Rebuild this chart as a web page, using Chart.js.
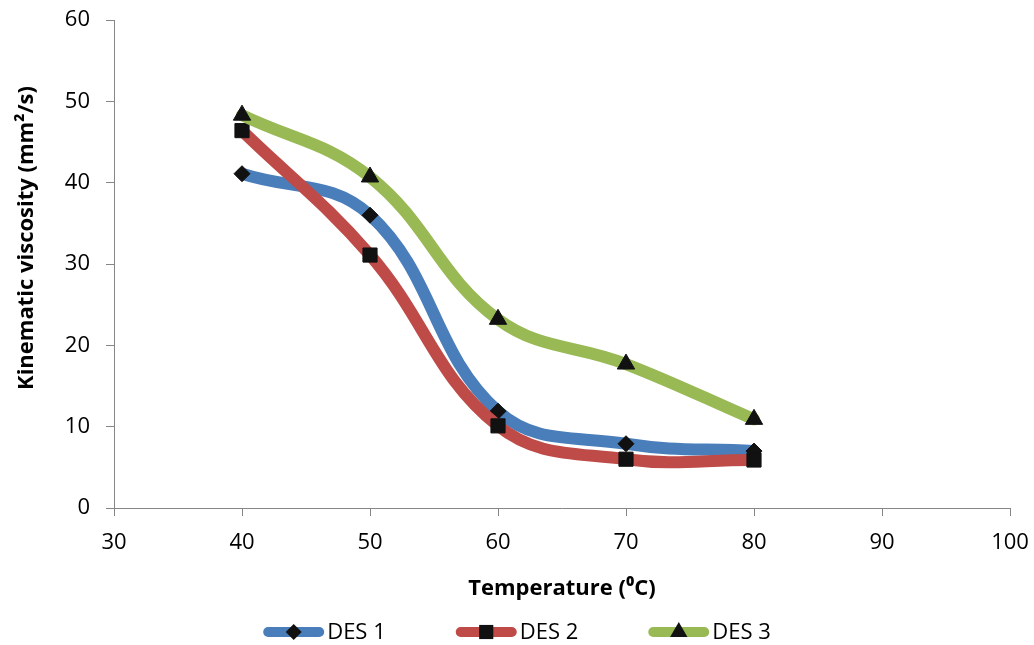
<!DOCTYPE html>
<html>
<head>
<meta charset="utf-8">
<script src="https://cdn.jsdelivr.net/npm/chart.js@4/dist/chart.umd.min.js"></script>
<style>
  html, body { margin: 0; padding: 0; background: #fff; }
  #wrap { width: 1034px; height: 645px; }
</style>
</head>
<body>
<div id="wrap"><canvas id="viscChart" width="1034" height="645"></canvas></div>
<script>
// Kinematic viscosity vs temperature

const temperatures = [40, 50, 60, 70, 80];
const des1 = [41.1, 36.0, 11.9, 7.9, 7.0];
const des2 = [46.4, 31.1, 10.1, 6.0, 5.9];
const des3 = [48.3, 40.7, 23.2, 17.7, 10.9];
const seriesNames = ['DES 1', 'DES 2', 'DES 3'];
const yTitle = 'Kinematic viscosity (mm\u00B2/s)';
const xTitle = 'Temperature (\u2070C)';

const axisColor = '#868686';
const fontFamily = "'Open Sans', 'Liberation Sans', sans-serif";

const toPoints = (vals) => vals.map((v, i) => ({ x: temperatures[i], y: v }));

// Y title drawn by hand (it sits a bit above the axis middle in the original)
const yTitlePlugin = {
    id: 'yTitlePlugin',
    afterDraw(chart) {
        const ctx = chart.ctx;
        ctx.save();
        ctx.translate(27, 238);
        ctx.rotate(-Math.PI / 2);
        ctx.font = 'bold 22px ' + fontFamily;
        ctx.fillStyle = '#000';
        ctx.textAlign = 'center';
        ctx.textBaseline = 'middle';
        ctx.fillText(yTitle, 0, 0);
        ctx.restore();
    }
};

// Legend at the bottom: thick line with the marker in the middle, then the name
const bottomLegend = {
    id: 'bottomLegend',
    afterDraw(chart) {
        const ctx = chart.ctx;
        const y = 632;
        const lineLen = 61;
        const gap = 3;
        const spacing = 70;
        ctx.save();
        ctx.font = '22px ' + fontFamily;
        const widths = chart.data.datasets.map(ds => ctx.measureText(ds.label).width);
        let total = 0;
        widths.forEach((w, i) => { total += lineLen + gap + w + (i ? spacing : 0); });
        let x = chart.width / 2 - total / 2;

        chart.data.datasets.forEach((ds, i) => {
            ctx.strokeStyle = ds.borderColor;
            ctx.lineWidth = 10;
            ctx.lineCap = 'round';
            ctx.beginPath();
            ctx.moveTo(x + 5, y);
            ctx.lineTo(x + lineLen - 5, y);
            ctx.stroke();
            ctx.fillStyle = '#111';
            Chart.helpers.drawPoint(ctx, {
                pointStyle: ds.pointStyle,
                radius: ds.pointRadius,
                borderWidth: 0
            }, x + lineLen / 2, y);
            ctx.fillStyle = '#000';
            ctx.textBaseline = 'middle';
            ctx.textAlign = 'left';
            ctx.fillText(ds.label, x + lineLen + gap, y + 1);
            x += lineLen + gap + widths[i] + spacing;
        });
        ctx.restore();
    }
};

const makeSet = (label, data, color, style, radius, order) => ({
    label: label,
    data: toPoints(data),
    borderColor: color,
    backgroundColor: color,
    borderWidth: 12,
    borderCapStyle: 'round',
    tension: 0.4,
    pointStyle: style,
    pointRadius: radius,
    pointHoverRadius: radius,
    pointBackgroundColor: '#111',
    pointBorderColor: '#111',
    pointBorderWidth: 1,
    order: order
});

new Chart(document.getElementById('viscChart'), {
    type: 'line',
    data: {
        datasets: [
            makeSet(seriesNames[0], des1, '#4A7EBB', 'rectRot', 8, 3),
            makeSet(seriesNames[1], des2, '#BE4B48', 'rect', 10, 2),
            makeSet(seriesNames[2], des3, '#98B954', 'triangle', 10, 1)
        ]
    },
    options: {
        responsive: false,
        animation: false,
        layout: { padding: { top: 20, right: 24, bottom: 37, left: 0 } },
        plugins: {
            legend: { display: false },
            tooltip: { enabled: false }
        },
        scales: {
            x: {
                type: 'linear',
                min: 30,
                max: 100,
                ticks: {
                    stepSize: 10,
                    color: '#000',
                    padding: 14,
                    font: { family: fontFamily, size: 22 }
                },
                grid: { drawOnChartArea: false, color: axisColor, tickLength: 8 },
                border: { color: axisColor, width: 1 },
                title: {
                    display: true,
                    text: xTitle,
                    color: '#000',
                    font: { family: fontFamily, size: 22, weight: 'bold' },
                    padding: { top: 4, bottom: 6 }
                },
                afterFit(scale) {
                    scale.height = 100;
                    scale.paddingLeft = 0;
                    scale.paddingRight = 0;
                }
            },
            y: {
                min: 0,
                max: 60,
                ticks: {
                    stepSize: 10,
                    color: '#000',
                    padding: 16,
                    font: { family: fontFamily, size: 22 }
                },
                grid: { drawOnChartArea: false, color: axisColor, tickLength: 8 },
                border: { color: axisColor, width: 1 },
                afterFit(scale) {
                    scale.width = 114;
                    scale.paddingTop = 0;
                    scale.paddingBottom = 0;
                }
            }
        }
    },
    plugins: [yTitlePlugin, bottomLegend]
});
</script>
</body>
</html>
